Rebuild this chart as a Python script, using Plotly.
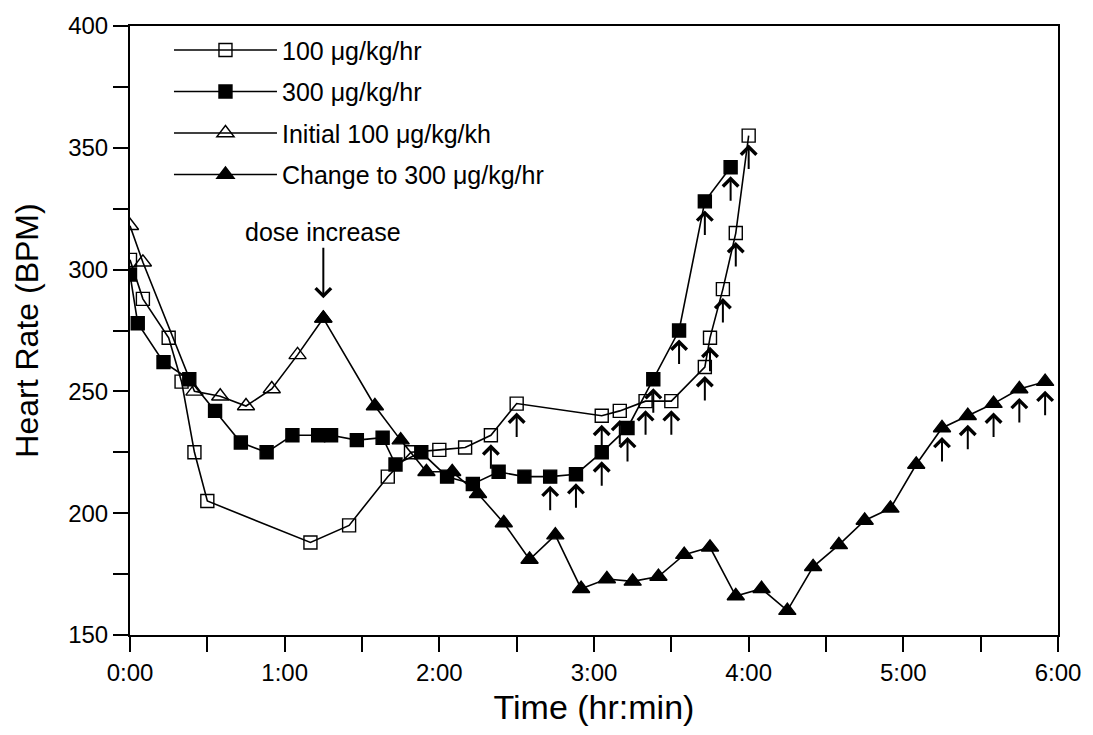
import plotly.graph_objects as go

# ---------------- data (time in minutes, heart rate in BPM) ----------------
t_100 = [0, 5, 15, 20, 25, 30, 70, 85, 100, 109, 120, 130, 140, 150, 183, 190,
         200, 210, 223, 225, 230, 235, 240]
hr_100 = [304, 288, 272, 254, 225, 205, 188, 195, 215, 225, 226, 227, 232, 245,
          240, 242, 246, 246, 260, 272, 292, 315, 355]
arrow_100 = [False] * 12 + [True] * 11

t_300 = [0, 3, 13, 23, 33, 43, 53, 63, 73, 78, 88, 98, 103, 113, 123, 133, 143,
         153, 163, 173, 183, 193, 203, 213, 223, 233]
hr_300 = [298, 278, 262, 255, 242, 229, 225, 232, 232, 232, 230, 231, 220, 225,
          215, 212, 217, 215, 215, 216, 225, 235, 255, 275, 328, 342]
arrow_300 = [False] * 18 + [True] * 8

t_init = [0, 5, 25, 35, 45, 55, 65, 75]
hr_init = [318, 303, 250, 248, 244, 251, 265, 280]

t_change = [75, 95, 105, 115, 125, 135, 145, 155, 165, 175, 185, 195, 205, 215,
            225, 235, 245, 255, 265, 275, 285, 295, 305, 315, 325, 335, 345, 355]
hr_change = [280, 244, 230, 217, 217, 208, 196, 181, 191, 169, 173, 172, 174, 183,
             186, 166, 169, 160, 178, 187, 197, 202, 220, 235, 240, 245, 251, 254]
arrow_change = [False] * 23 + [True] * 5

names = ["100 \u03bcg/kg/hr", "300 \u03bcg/kg/hr",
         "Initial 100 \u03bcg/kg/kh", "Change to 300 \u03bcg/kg/hr"]

x_tick_vals = [0, 1, 2, 3, 4, 5, 6]
x_tick_text = ["0:00", "1:00", "2:00", "3:00", "4:00", "5:00", "6:00"]
y_tick_vals = [150, 200, 250, 300, 350, 400]

dose_time = 75
dose_hr = 280
dose_label = "dose increase"

FONT = "Liberation Sans, Arial, sans-serif"


def hrs(mins):
    return [m / 60 for m in mins]


fig = go.Figure()

series = [
    (t_init, hr_init, names[2], "triangle-up-open", 15),
    (t_100, hr_100, names[0], "square-open", 13),
    (t_300, hr_300, names[1], "square", 13),
    (t_change, hr_change, names[3], "triangle-up", 15),
]
legend_rank = {names[0]: 1, names[1]: 2, names[2]: 3, names[3]: 4}

for tt, hh, nm, sym, sz in series:
    fig.add_trace(go.Scatter(
        x=hrs(tt), y=hh, name=nm, mode="lines+markers",
        line=dict(color="black", width=1.6),
        marker=dict(symbol=sym, size=sz, color="black",
                    line=dict(color="black", width=1.4)),
        legendgroup=nm, legendrank=legend_rank[nm],
    ))

# up arrows under flagged points
for tt, hh, flags in [(t_100, hr_100, arrow_100), (t_300, hr_300, arrow_300),
                      (t_change, hr_change, arrow_change)]:
    for m, v, f in zip(tt, hh, flags):
        if f:
            fig.add_annotation(
                x=m / 60, y=v, xref="x", yref="y", text="", showarrow=True,
                ax=0, ay=26, yshift=-9, arrowhead=4, arrowsize=1.5,
                arrowwidth=2, arrowcolor="black",
            )

# dose increase annotation
fig.add_annotation(
    x=dose_time / 60, y=dose_hr, xref="x", yref="y", text=dose_label,
    showarrow=True, ax=0, ay=-66, yshift=20, arrowhead=4, arrowsize=1.5,
    arrowwidth=2, arrowcolor="black", font=dict(size=25, color="black", family=FONT),
)

fig.update_layout(
    width=1093, height=735,
    margin=dict(l=130, r=35, t=17, b=100),
    paper_bgcolor="white", plot_bgcolor="white",
    font=dict(family=FONT, color="black", size=24),
    showlegend=True,
    legend=dict(
        x=0.042, y=0.998, xanchor="left", yanchor="top",
        bgcolor="rgba(0,0,0,0)", borderwidth=0,
        font=dict(size=25, family=FONT, color="black"),
        itemwidth=103, traceorder="grouped", tracegroupgap=6,
    ),
)

fig.update_xaxes(
    range=[0, 6], tickvals=x_tick_vals, ticktext=x_tick_text,
    showgrid=False, zeroline=False,
    showline=True, linecolor="black", linewidth=2, mirror=True,
    ticks="outside", ticklen=15, tickwidth=2, tickcolor="black",
    minor=dict(dtick=0.5, ticks="outside", ticklen=15, tickwidth=2, tickcolor="black", showgrid=False),
    tickfont=dict(size=24, family=FONT),
    title=dict(text="Time (hr:min)", font=dict(size=34, family=FONT), standoff=10),
)
fig.update_yaxes(
    range=[150, 400], tickvals=y_tick_vals,
    showgrid=False, zeroline=False,
    showline=True, linecolor="black", linewidth=2, mirror=True,
    ticks="outside", ticklen=15, tickwidth=2, tickcolor="black",
    minor=dict(dtick=25, ticks="outside", ticklen=15, tickwidth=2, tickcolor="black", showgrid=False),
    tickfont=dict(size=24, family=FONT), ticklabelstandoff=0,
    title=dict(text="Heart Rate (BPM)", font=dict(size=32, family=FONT), standoff=20),
)

fig.write_html("out.html", config={"displayModeBar": False},
               post_script="document.body.style.margin='0';")
